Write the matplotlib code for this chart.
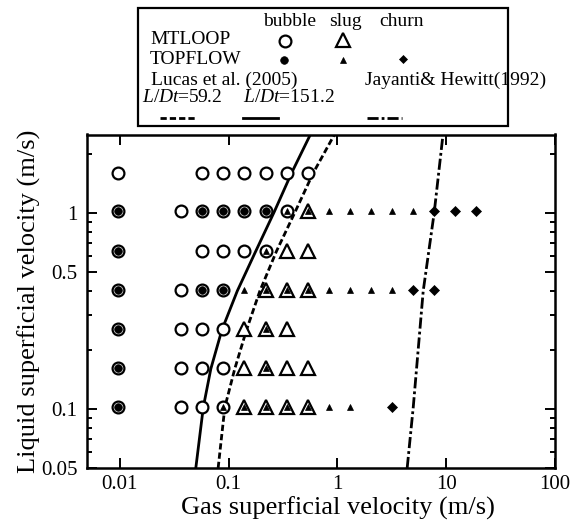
import matplotlib
matplotlib.use("Agg")
from matplotlib import pyplot as plt
from matplotlib.patches import Rectangle
from matplotlib.ticker import FixedLocator, LogLocator, NullFormatter

plt.rcParams['font.family'] = 'Liberation Serif'
plt.rcParams['mathtext.fontset'] = 'custom'
plt.rcParams['mathtext.rm'] = 'Liberation Serif'
plt.rcParams['mathtext.it'] = 'Liberation Serif:italic'
plt.rcParams['lines.scale_dashes'] = False

# MTLOOP, bubble flow
mt_bubble_jg = [0.0096, 0.0574, 0.0898, 0.140, 0.219, 0.342, 0.534,
                0.0096, 0.0368, 0.0574, 0.0898, 0.140, 0.219, 0.342,
                0.0096, 0.0574, 0.0898, 0.140, 0.219,
                0.0096, 0.0368, 0.0574, 0.0898,
                0.0096, 0.0368, 0.0574, 0.0898,
                0.0096, 0.0368, 0.0574, 0.0898,
                0.0096, 0.0368, 0.0574, 0.0898]
mt_bubble_jl = ([1.6] * 7 + [1.017] * 7 + [0.641] * 5 + [0.405] * 4
                + [0.255] * 4 + [0.161] * 4 + [0.102] * 4)

# MTLOOP, slug flow
mt_slug_jg = [0.534,
              0.342, 0.534,
              0.219, 0.342, 0.534,
              0.140, 0.219, 0.342,
              0.140, 0.219, 0.342, 0.534,
              0.140, 0.219, 0.342, 0.534]
mt_slug_jl = ([1.017] + [0.641] * 2 + [0.405] * 3 + [0.255] * 3
              + [0.161] * 4 + [0.102] * 4)

# TOPFLOW, bubble / slug / churn
tf_bubble_jg = [0.0096, 0.0574, 0.0898, 0.140, 0.219,
                0.0096,
                0.0096, 0.0574, 0.0898,
                0.0096, 0.0096, 0.0096]
tf_bubble_jl = [1.017] * 5 + [0.641] + [0.405] * 3 + [0.255, 0.161, 0.102]

tf_slug_jg = [0.342, 0.534, 0.835, 1.305, 2.038, 3.185, 4.975,
              0.219,
              0.140, 0.219, 0.342, 0.534, 0.835, 1.305, 2.038, 3.185,
              0.219, 0.219,
              0.0898, 0.140, 0.219, 0.342, 0.534, 0.835, 1.305]
tf_slug_jl = [1.017] * 7 + [0.641] + [0.405] * 8 + [0.255, 0.161] + [0.102] * 7

tf_churn_jg = [7.772, 12.14, 18.97, 4.975, 7.772, 3.185]
tf_churn_jl = [1.017] * 3 + [0.405] * 2 + [0.102]

# transition boundaries
lucas59_jl = [0.05, 0.102, 0.16, 0.252, 0.399, 0.637, 1.0, 1.59, 2.5]
lucas59_jg = [0.0802, 0.0924, 0.114, 0.146, 0.194, 0.276, 0.406, 0.599, 0.94]
lucas151_jl = [0.05, 0.102, 0.16, 0.252, 0.399, 0.637, 1.0, 1.59, 2.5]
lucas151_jg = [0.050, 0.0586, 0.0687, 0.0867, 0.1203, 0.178, 0.261, 0.379, 0.565]
jayanti_jl = [0.05, 0.102, 0.399, 1.0, 2.5]
jayanti_jg = [4.38, 4.98, 6.15, 7.76, 9.35]

open_circle = dict(marker='o', ms=8.5, mfc='white', mec='black', mew=1.6, ls='none')
open_tri = dict(marker='^', ms=9.5, mfc='white', mec='black', mew=1.6, ls='none')
dot = dict(marker='o', ms=5.5, mfc='black', mec='black', mew=0.5, ls='none')
small_tri = dict(marker='^', ms=4.8, mfc='black', mec='black', mew=0.5, ls='none')
diamond = dict(marker='D', ms=5.0, mfc='black', mec='black', mew=0.5, ls='none')

dash_style = dict(color='black', lw=2.0, dashes=[4.5, 2.2])
solid_style = dict(color='black', lw=2.0, ls='-')
dashdot_style = dict(color='black', lw=2.0, dashes=[8.0, 2.2, 2.0, 2.2])

fig = plt.figure(figsize=(5.84, 5.28), dpi=100)
ax = fig.add_axes([87 / 584, 60 / 528, 468 / 584, 333.5 / 528])

ax.plot(lucas59_jg, lucas59_jl, **dash_style)
ax.plot(lucas151_jg, lucas151_jl, **solid_style)
ax.plot(jayanti_jg, jayanti_jl, **dashdot_style)

ax.plot(mt_bubble_jg, mt_bubble_jl, **open_circle)
ax.plot(mt_slug_jg, mt_slug_jl, **open_tri)
ax.plot(tf_bubble_jg, tf_bubble_jl, **dot)
ax.plot(tf_slug_jg, tf_slug_jl, **small_tri)
ax.plot(tf_churn_jg, tf_churn_jl, **diamond)

ax.set_xscale('log')
ax.set_yscale('log')
ax.set_xlim(0.005, 100)
ax.set_ylim(0.05, 2.5)

ax.xaxis.set_major_locator(FixedLocator([0.01, 0.1, 1, 10, 100]))
ax.xaxis.set_minor_locator(FixedLocator([]))
ax.set_xticklabels(['0.01', '0.1', '1', '10', '100'])
ax.yaxis.set_major_locator(FixedLocator([0.05, 0.1, 0.5, 1]))
ax.yaxis.set_minor_locator(LogLocator(base=10, subs=range(2, 10)))
ax.yaxis.set_minor_formatter(NullFormatter())
ax.set_yticklabels(['0.05', '0.1', '0.5', '1'])

ax.tick_params(which='both', direction='in', top=True, right=True,
               width=1.4, labelsize=15)
ax.tick_params(which='major', length=7)
ax.tick_params(which='minor', length=3.8)
ax.tick_params(axis='x', pad=5)
ax.tick_params(axis='y', pad=7)
for sp in ax.spines.values():
    sp.set_linewidth(1.8)

ax.set_xlabel('Gas superficial velocity (m/s)', fontsize=19)
ax.set_ylabel('Liquid superficial velocity (m/s)', fontsize=19)
ax.xaxis.set_label_coords(0.536, -0.085)
ax.yaxis.set_label_coords(-0.098, 0.5)

# key box drawn in pixel coordinates
key = fig.add_axes([0, 0, 1, 1], facecolor='none')
key.set_xlim(0, 584)
key.set_ylim(528, 0)
key.axis('off')
key.add_patch(Rectangle((138, 8), 370, 118, fill=False, lw=1.6, ec='black'))

fs = 14
key.text(290, 22, 'bubble', fontsize=fs, ha='center', va='center')
key.text(345, 22, 'slug', fontsize=fs, ha='center', va='center')
key.text(402, 22, 'churn', fontsize=fs, ha='center', va='center')
key.text(150, 40, 'MTLOOP', fontsize=fs, ha='left', va='center')
key.plot([285], [41], **open_circle)
key.plot([343], [40], **open_tri)
key.text(150, 59, 'TOPFLOW', fontsize=fs, ha='left', va='center')
key.plot([284], [60], **dot)
key.plot([343], [60], **small_tri)
key.plot([403], [59], **dict(diamond, ms=4.2))
key.text(151, 80, 'Lucas et al. (2005)', fontsize=fs, ha='left', va='center')
key.text(365, 80, 'Jayanti& Hewitt(1992)', fontsize=fs, ha='left', va='center')
key.text(142, 98, r'$L/Dt$=59.2', fontsize=fs, ha='left', va='center')
key.text(243, 98, r'$L/Dt$=151.2', fontsize=fs, ha='left', va='center')
key.plot([160, 195], [118, 118], **dash_style)
key.plot([243, 278], [118, 118], **solid_style)
key.plot([367, 402], [118, 118], **dashdot_style)

fig.savefig('out.png', dpi=100)
